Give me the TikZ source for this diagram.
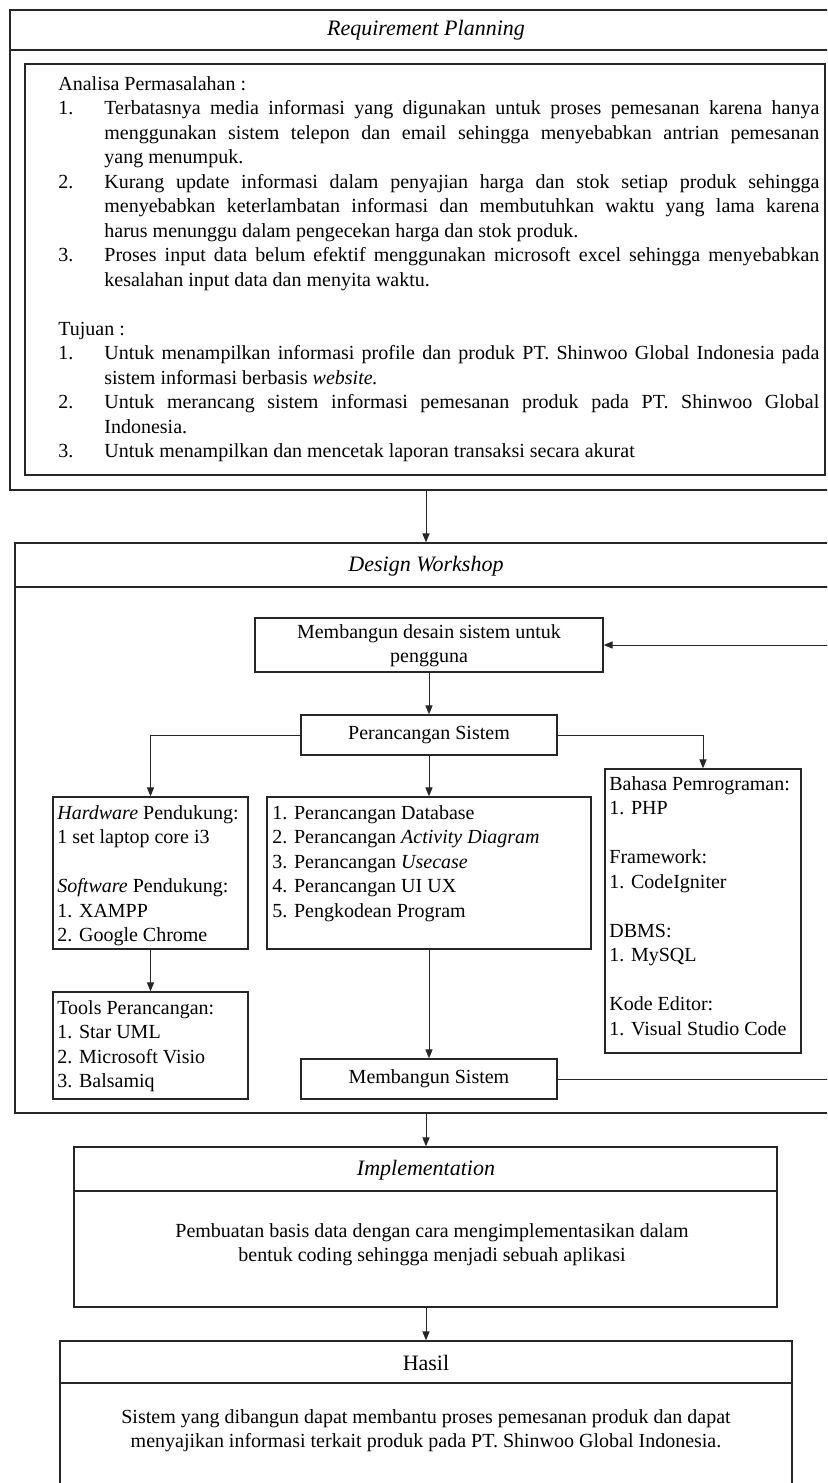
\documentclass[tikz,border=0pt]{standalone}
\usepackage{fontspec}
\setmainfont{Liberation Serif}
\usetikzlibrary{arrows.meta,calc}
\newcommand{\butir}[2]{\par\hangindent=23pt\hangafter=1\noindent\makebox[23pt][l]{#1}#2}

\begin{document}
\begin{tikzpicture}[x=0.5pt,y=-0.5pt,
	kotak/.style={draw=black!85,line width=0.7pt,inner sep=0pt},
	teks/.style={inner sep=0pt,font=\fontsize{10}{12.25}\selectfont},
	judul/.style={inner sep=0pt,font=\fontsize{11}{13}\selectfont\itshape},
	panah/.style={draw=black!85,line width=0.5pt,-{Triangle[length=4.5pt,width=3.6pt]}}]
\clip (0,0) rectangle (827,1483);
\useasboundingbox (0,0) rectangle (827,1483);

% Requirement Planning
\node [kotak,minimum width=412.5pt,minimum height=240pt] (rp) at (422.5,250) {};
\draw [kotak] (rp.west |- 0,50) -- (rp.east |- 0,50);
\node [judul] (rptitle) at (426,30) {Requirement Planning};
\node [kotak,minimum width=400pt,minimum height=205.5pt] (rpin) at (425,269.5) {};
\node [teks,anchor=north west,text width=380.5pt,align=justify] (rptxt) at (58,76) {%
	\hyphenpenalty=10000\exhyphenpenalty=10000\noindent
	Analisa Permasalahan :
	\butir{1.}{Terbatasnya media informasi yang digunakan untuk proses pemesanan karena hanya\linebreak menggunakan sistem telepon dan email sehingga menyebabkan antrian pemesanan\linebreak yang menumpuk.}
	\butir{2.}{Kurang update informasi dalam penyajian harga dan stok setiap produk sehingga\linebreak menyebabkan keterlambatan informasi dan membutuhkan waktu yang lama karena\linebreak harus menunggu dalam pengecekan harga dan stok produk.}
	\butir{3.}{Proses input data belum efektif menggunakan microsoft excel sehingga menyebabkan\linebreak kesalahan input data dan menyita waktu.}
	\par\vspace{12.25pt}\noindent
	Tujuan :
	\butir{1.}{Untuk menampilkan informasi profile dan produk PT. Shinwoo Global Indonesia pada\linebreak sistem informasi berbasis \textit{website.}}
	\butir{2.}{Untuk merancang sistem informasi pemesanan produk pada PT. Shinwoo Global\linebreak Indonesia.}
	\butir{3.}{Untuk menampilkan dan mencetak laporan transaksi secara akurat}};

% Design Workshop
\node [kotak,minimum width=410pt,minimum height=285pt] (dw) at (425,828) {};
\draw [kotak] (dw.west |- 0,587) -- (dw.east |- 0,587);
\node [judul] (dwtitle) at (426,566) {Design Workshop};
\node [kotak,minimum width=174pt,minimum height=27pt] (md) at (429,645) {};
\node [teks,align=center] (mdtxt) at (429,645.5) {Membangun desain sistem untuk\\pengguna};
\node [kotak,minimum width=128pt,minimum height=20pt] (ps) at (429,735) {};
\node [teks] (pstxt) at (429,735) {Perancangan Sistem};
\node [kotak,minimum width=97.5pt,minimum height=76pt] (hw) at (150.5,873) {};
\node [teks,anchor=north west,align=left] (hwtxt) at (57,805) {\textit{Hardware} Pendukung:\\1 set laptop core i3\\[12.25pt]\textit{Software} Pendukung:\\1. XAMPP\\2. Google Chrome};
\node [kotak,minimum width=162pt,minimum height=76pt] (mid) at (429,873) {};
\node [teks,anchor=north west,align=left] (midtxt) at (272,805) {1. Perancangan Database\\2. Perancangan \textit{Activity Diagram}\\3. Perancangan \textit{Usecase}\\4. Perancangan UI UX\\5. Pengkodean Program};
\node [kotak,minimum width=98pt,minimum height=142pt] (rt) at (703,911) {};
\node [teks,anchor=north west,align=left] (rttxt) at (609,776) {Bahasa Pemrograman:\\1. PHP\\[12.25pt]Framework:\\1. CodeIgniter\\[12.25pt]DBMS:\\1. MySQL\\[12.25pt]Kode Editor:\\1. Visual Studio Code};
\node [kotak,minimum width=97.5pt,minimum height=53.5pt] (tl) at (150.5,1045.5) {};
\node [teks,anchor=north west,align=left] (tltxt) at (57,1000) {Tools Perancangan:\\1. Star UML\\2. Microsoft Visio\\3. Balsamiq};
\node [kotak,minimum width=128pt,minimum height=20pt] (ms) at (429,1079) {};
\node [teks] (mstxt) at (429,1079) {Membangun Sistem};
\coordinate (balik) at (845,645);

\draw [panah] (md) -- (ps);
\draw [panah] (ps.west) -| (hw.north);
\draw [panah] (ps) -- (mid);
\draw [panah] (ps.east) -| (rt.north);
\draw [panah] (hw) -- (tl);
\draw [panah] (mid) -- (ms);
\draw [panah] (ms.east) -| (balik) -- (md.east);

% Implementation
\node [kotak,minimum width=351.5pt,minimum height=80pt] (im) at (425.5,1227) {};
\draw [kotak] (im.west |- 0,1191) -- (im.east |- 0,1191);
\node [judul] (imtitle) at (426,1170) {Implementation};
\node [teks,align=center] (imtxt) at (432,1244.5) {Pembuatan basis data dengan cara mengimplementasikan dalam\\bentuk coding sehingga menjadi sebuah aplikasi};

% Hasil
\node [kotak,minimum width=366pt,minimum height=79.5pt] (hs) at (426,1420.5) {};
\draw [kotak] (hs.west |- 0,1383) -- (hs.east |- 0,1383);
\node [judul,font=\fontsize{11}{13}\selectfont] (hstitle) at (426,1363) {Hasil};
\node [teks,align=center] (hstxt) at (426,1430.5) {Sistem yang dibangun dapat membantu proses pemesanan produk dan dapat\\menyajikan informasi terkait produk pada PT. Shinwoo Global Indonesia.};

\draw [panah] (rptitle |- rp.south) -- (rptitle |- dw.north);
\draw [panah] (dwtitle |- dw.south) -- (dwtitle |- im.north);
\draw [panah] (imtitle |- im.south) -- (imtitle |- hs.north);
\end{tikzpicture}
\end{document}
